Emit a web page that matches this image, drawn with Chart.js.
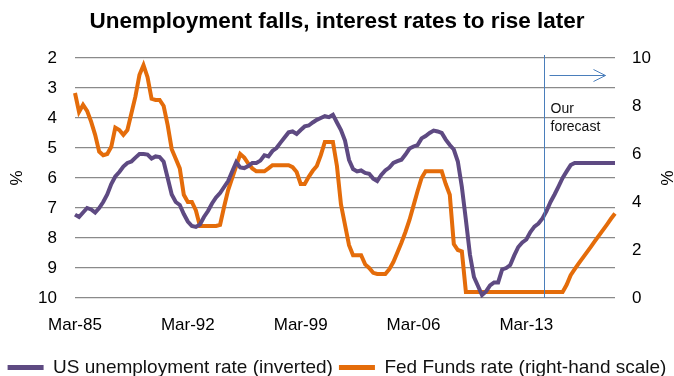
<!DOCTYPE html>
<html>
<head>
<meta charset="utf-8">
<script src="https://cdn.jsdelivr.net/npm/chart.js@4.4.1/dist/chart.umd.min.js"></script>
<style>
    html, body { margin: 0; padding: 0; background: #fff; }
    #wrap { width: 674px; height: 376px; }
</style>
</head>
<body>
<div id="wrap"><canvas id="ratesChart" width="674" height="376"></canvas></div>
<script>
// quarterly, Mar-85 .. Sep-18 (forecast from Mar-14)
const quarterNames = ['Mar', 'Jun', 'Sep', 'Dec'];
const firstYear = 1985;
const quarterCount = 135;
const xTickLabels = ['Mar-85', 'Mar-92', 'Mar-99', 'Mar-06', 'Mar-13'];
const forecastFrom = 'Mar-14';

// unemployment rate, % (drawn on the inverted left scale)
const unemployment = [
    7.22, 7.3, 7.15, 7.0, 7.05, 7.15, 7.0, 6.8,
    6.55, 6.2, 5.95, 5.8, 5.62, 5.5, 5.45, 5.32,
    5.2, 5.2, 5.22, 5.35, 5.28, 5.3, 5.46, 6.0,
    6.55, 6.8, 6.9, 7.2, 7.45, 7.6, 7.63, 7.55,
    7.3, 7.1, 6.85, 6.65, 6.5, 6.3, 6.1, 5.78,
    5.47, 5.65, 5.67, 5.6, 5.5, 5.5, 5.42, 5.24,
    5.28, 5.1, 5.0, 4.82, 4.65, 4.48, 4.45, 4.53,
    4.4, 4.28, 4.25, 4.15, 4.06, 4.0, 3.94, 3.97,
    3.89, 4.15, 4.4, 4.75, 5.4, 5.7, 5.78, 5.75,
    5.83, 5.86, 6.02, 6.1, 5.9, 5.75, 5.65, 5.5,
    5.44, 5.39, 5.22, 5.02, 4.95, 4.9, 4.68, 4.6,
    4.5, 4.42, 4.45, 4.5, 4.72, 4.9, 5.05, 5.45,
    6.3, 7.4, 8.55, 9.3, 9.6, 9.9, 9.78, 9.58,
    9.48, 9.48, 9.05, 9.0, 8.9, 8.58, 8.3, 8.15,
    8.05, 7.8, 7.62, 7.52, 7.35, 7.1, 6.8, 6.55,
    6.28, 6.0, 5.78, 5.57, 5.5, 5.5, 5.5, 5.5,
    5.5, 5.5, 5.5, 5.5, 5.5, 5.5, 5.5
];

// Fed Funds rate, % (right-hand scale)
const fedFunds = [
    8.54, 7.75, 8.05, 7.8, 7.35, 6.8, 6.1, 5.95,
    6.0, 6.3, 7.1, 7.0, 6.8, 7.0, 7.7, 8.4,
    9.3, 9.7, 9.2, 8.3, 8.25, 8.25, 8.0, 7.2,
    6.2, 5.8, 5.4, 4.3, 4.0, 4.0, 3.65, 3.0,
    3.0, 3.0, 3.0, 3.0, 3.05, 3.8, 4.5, 5.0,
    5.5, 6.0, 5.85, 5.6, 5.4, 5.28, 5.28, 5.28,
    5.4, 5.53, 5.53, 5.53, 5.53, 5.53, 5.45, 5.25,
    4.75, 4.75, 5.05, 5.3, 5.5, 5.95, 6.5, 6.5,
    6.5, 5.5, 3.9, 3.05, 2.2, 1.78, 1.78, 1.78,
    1.4, 1.25, 1.05, 1.0, 1.0, 1.0, 1.2, 1.5,
    1.9, 2.3, 2.75, 3.25, 3.85, 4.45, 5.0, 5.28,
    5.28, 5.28, 5.28, 5.28, 4.75, 4.3, 2.25, 2.0,
    1.94, 0.25, 0.25, 0.25, 0.25, 0.25, 0.25, 0.25,
    0.25, 0.25, 0.25, 0.25, 0.25, 0.25, 0.25, 0.25,
    0.25, 0.25, 0.25, 0.25, 0.25, 0.25, 0.25, 0.25,
    0.25, 0.25, 0.55, 0.95, 1.2, 1.44, 1.67, 1.9,
    2.13, 2.37, 2.6, 2.83, 3.06, 3.3, 3.52
];

const quarters = [];
for (let i = 0; i < quarterCount; i++) {
    const year = firstYear + Math.floor(i / 4);
    quarters.push(quarterNames[i % 4] + '-' + String(year).slice(-2));
}

const purple = '#5e4a82';
const orange = '#e46c0a';
const markerBlue = '#4a7ebb';
const fontFamily = '"Liberation Sans", Arial, sans-serif';

// vertical line + arrow marking where the forecast starts
const forecastMarker = {
    id: 'forecastMarker',
    afterDatasetsDraw(chart) {
        const ctx = chart.ctx;
        const area = chart.chartArea;
        const x = Math.round(chart.scales.x.getPixelForValue(quarters.indexOf(forecastFrom) + 0.4)) + 0.5;
        const arrowY = Math.round(area.top + 17) + 0.5;

        ctx.save();
        ctx.strokeStyle = markerBlue;
        ctx.lineWidth = 1;
        ctx.beginPath();
        ctx.moveTo(x, area.top - 3);
        ctx.lineTo(x, area.bottom);
        ctx.stroke();

        const tip = x + 61;
        ctx.beginPath();
        ctx.moveTo(x + 5, arrowY);
        ctx.lineTo(tip, arrowY);
        ctx.moveTo(tip - 12, arrowY - 6);
        ctx.lineTo(tip, arrowY);
        ctx.lineTo(tip - 12, arrowY + 6);
        ctx.stroke();

        ctx.fillStyle = '#111';
        ctx.font = '14px ' + fontFamily;
        ctx.textAlign = 'left';
        ctx.textBaseline = 'middle';
        ctx.fillText('Our', x + 6, area.top + 51);
        ctx.fillText('forecast', x + 6, area.top + 69);
        ctx.restore();
    }
};

// nudge the legend row a little lower
const legendShift = {
    id: 'legendShift',
    afterLayout(chart) {
        chart.legend.top += 11;
        chart.legend.bottom += 11;
    }
};

Chart.defaults.font.family = fontFamily;
Chart.defaults.color = '#000';

const ctx = document.getElementById('ratesChart').getContext('2d');

const ratesChart = new Chart(ctx, {
    type: 'line',
    data: {
        labels: quarters,
        datasets: [{
            label: 'US unemployment rate (inverted)',
            data: unemployment,
            yAxisID: 'y',
            borderColor: purple,
            backgroundColor: purple,
            borderWidth: 4,
            pointRadius: 0,
            tension: 0
        }, {
            label: 'Fed Funds rate (right-hand scale)',
            data: fedFunds,
            yAxisID: 'y1',
            borderColor: orange,
            backgroundColor: orange,
            borderWidth: 4,
            pointRadius: 0,
            tension: 0
        }]
    },
    options: {
        responsive: false,
        animation: false,
        events: [],
        layout: { padding: 0 },
        plugins: {
            title: {
                display: true,
                text: 'Unemployment falls, interest rates to rise later',
                color: '#000',
                font: { size: 22.5, weight: 'bold' },
                padding: { top: 8, bottom: 23 }
            },
            legend: {
                position: 'bottom',
                labels: {
                    color: '#111',
                    font: { size: 19 },
                    boxWidth: 36,
                    boxHeight: 5,
                    padding: 6,
                    generateLabels(chart) {
                        return Chart.defaults.plugins.legend.labels.generateLabels(chart)
                            .map(item => ({ ...item, lineWidth: 0 }));
                    }
                }
            },
            tooltip: { enabled: false }
        },
        scales: {
            x: {
                grid: { display: false },
                border: { display: false },
                ticks: {
                    autoSkip: false,
                    maxRotation: 0,
                    minRotation: 0,
                    padding: 9,
                    font: { size: 17 },
                    callback: function (value) {
                        const label = this.getLabelForValue(value);
                        return xTickLabels.includes(label) ? label : '';
                    }
                },
                afterFit(scale) {
                    // plot area ends at y = 298, legend takes the rest
                    scale.height = 43;
                }
            },
            y: {
                position: 'left',
                reverse: true,
                min: 2,
                max: 10,
                ticks: { stepSize: 1, padding: 18, font: { size: 17 } },
                grid: { color: '#8a8a8a', lineWidth: 1.2, drawTicks: false },
                border: { display: false },
                title: {
                    display: true,
                    text: '%',
                    font: { size: 17, lineHeight: 1 },
                    padding: { top: 9 }
                },
                afterFit(scale) {
                    scale.width = 75;
                }
            },
            y1: {
                position: 'right',
                min: 0,
                max: 10,
                ticks: { stepSize: 2, padding: 17, font: { size: 17 } },
                grid: { display: false, drawTicks: false },
                border: { display: false },
                title: {
                    display: true,
                    text: '%',
                    font: { size: 17, lineHeight: 1 },
                    padding: { top: 0 }
                },
                afterFit(scale) {
                    scale.width = 59;
                }
            }
        }
    },
    plugins: [forecastMarker, legendShift]
});
</script>
</body>
</html>
